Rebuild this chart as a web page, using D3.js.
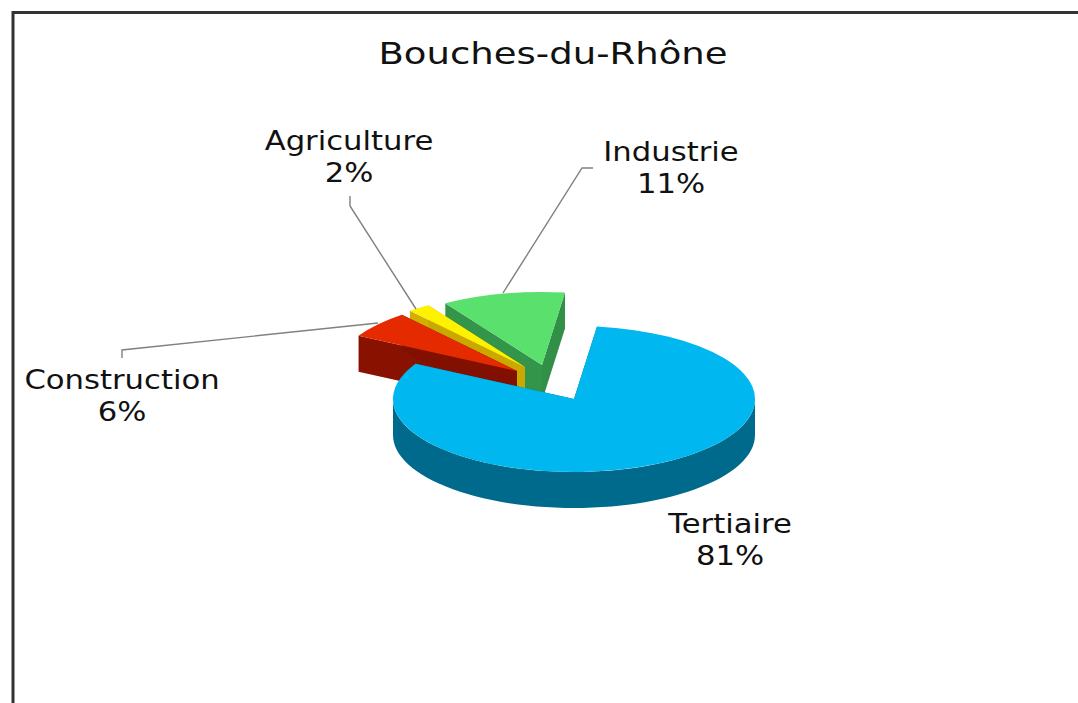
<!DOCTYPE html>
<html>
<head>
<meta charset="utf-8">
<style>
  html, body { margin: 0; padding: 0; background: #fff; }
  svg { display: block; }
  text { font-family: "DejaVu Sans", sans-serif; fill: #111; }
</style>
</head>
<body>
<div id="chart"></div>
<script src="https://cdn.jsdelivr.net/npm/d3@7"></script>
<script>
const categories = ['Tertiaire', 'Construction', 'Agriculture', 'Industrie'];
const shares = [81, 6, 2, 11];
const percentLabels = ['81%', '6%', '2%', '11%'];
const chartTitle = 'Bouches-du-Rhône';

const W = 1078;
const H = 703;
const CX = 574;
const CY = 399;
const RX = 181;
const RY = 73;
const DEPTH = 36;
const START_ANGLE = 7.3 * Math.PI / 180;

// how far each slice is pulled from the centre, and how it is painted
const STYLE = {
  Tertiaire: { dx: 0, dy: 0, top: '#00b7f0', side: '#006a8c', wall: '#006a8c' },
  Construction: { dx: -57, dy: -28, top: '#e62a00', side: '#821000', wall: '#821000' },
  Agriculture: { dx: -49, dy: -32, top: '#fff200', side: '#c9a800', wall: '#c9a800' },
  Industrie: { dx: -32, dy: -34, top: '#5ae06c', side: '#318f47', wall: '#318f47' },
};
const LABELS = {
  Tertiaire: { x: 730, y: 533, line: null },
  Construction: { x: 122, y: 389, line: [[378, 323], [122, 350], [122, 358]] },
  Agriculture: { x: 349, y: 150, line: [[416, 309], [350, 206], [350, 196]] },
  Industrie: { x: 671, y: 161, line: [[503, 293], [582, 168], [593, 168]] },
};
// the original type is wider than DejaVu Sans
const LABEL_STRETCH = 1.18;
const TITLE_STRETCH = 1.234;

const svg = d3.select('#chart').append('svg').attr('width', W).attr('height', H);

// frame: only top and left edges are inside the picture
svg.append('path')
  .attr('d', `M13 ${H}V12.5H${W}`)
  .attr('fill', 'none')
  .attr('stroke', '#333')
  .attr('stroke-width', 3);

svg.append('text')
  .attr('transform', `translate(553,64) scale(${TITLE_STRETCH},1)`)
  .attr('text-anchor', 'middle')
  .attr('font-size', 30)
  .text(chartTitle);

const slices = d3.pie().sort(null)
  .startAngle(START_ANGLE)
  .endAngle(START_ANGLE + 2 * Math.PI)(shares)
  .map((s, i) => ({ ...s, name: categories[i], pct: percentLabels[i] }));

const arcGen = d3.arc().innerRadius(0).outerRadius(RX);
const lineGen = d3.line();
const px = a => RX * Math.sin(a);
const py = a => -RY * Math.cos(a);

function radialFace(a) {
  return lineGen([[0, 0], [px(a), py(a)], [px(a), py(a) + DEPTH], [0, DEPTH]]) + 'Z';
}

// outer wall, only where the rim faces the viewer (90deg..270deg)
function wallPath(d) {
  const a0 = Math.max(d.startAngle, Math.PI / 2);
  const a1 = Math.min(d.endAngle, 3 * Math.PI / 2);
  if (a1 <= a0) return null;
  const steps = d3.range(0, 61).map(i => a0 + (a1 - a0) * i / 60);
  const rim = steps.map(a => [px(a), py(a)]);
  const low = steps.slice().reverse().map(a => [px(a), py(a) + DEPTH]);
  return lineGen(rim.concat(low)) + 'Z';
}

// back to front, the big slice goes last
const drawOrder = ['Industrie', 'Agriculture', 'Construction', 'Tertiaire'];
drawOrder.forEach(name => {
  const d = slices.find(s => s.name === name);
  const st = STYLE[name];
  const g = svg.append('g').attr('transform', `translate(${CX + st.dx},${CY + st.dy})`);
  g.append('path').attr('d', radialFace(d.startAngle)).attr('fill', d3.color(st.side).brighter(0.12));
  g.append('path').attr('d', radialFace(d.endAngle)).attr('fill', st.side);
  const wall = wallPath(d);
  if (wall) g.append('path').attr('d', wall).attr('fill', st.wall);
  g.append('path')
    .attr('transform', `scale(1,${RY / RX})`)
    .attr('d', arcGen(d))
    .attr('fill', st.top);
});

// leader lines
Object.values(LABELS).filter(l => l.line).forEach(l => {
  svg.append('path')
    .attr('d', lineGen(l.line))
    .attr('fill', 'none')
    .attr('stroke', '#808080')
    .attr('stroke-width', 1.4);
});

slices.forEach(d => {
  const l = LABELS[d.name];
  const t = svg.append('text')
    .attr('transform', `translate(${l.x},${l.y}) scale(${LABEL_STRETCH},1)`)
    .attr('text-anchor', 'middle')
    .attr('font-size', 26);
  t.append('tspan').attr('x', 0).attr('y', 0).text(d.name);
  t.append('tspan').attr('x', 0).attr('y', 32).text(d.pct);
});
</script>
</body>
</html>
